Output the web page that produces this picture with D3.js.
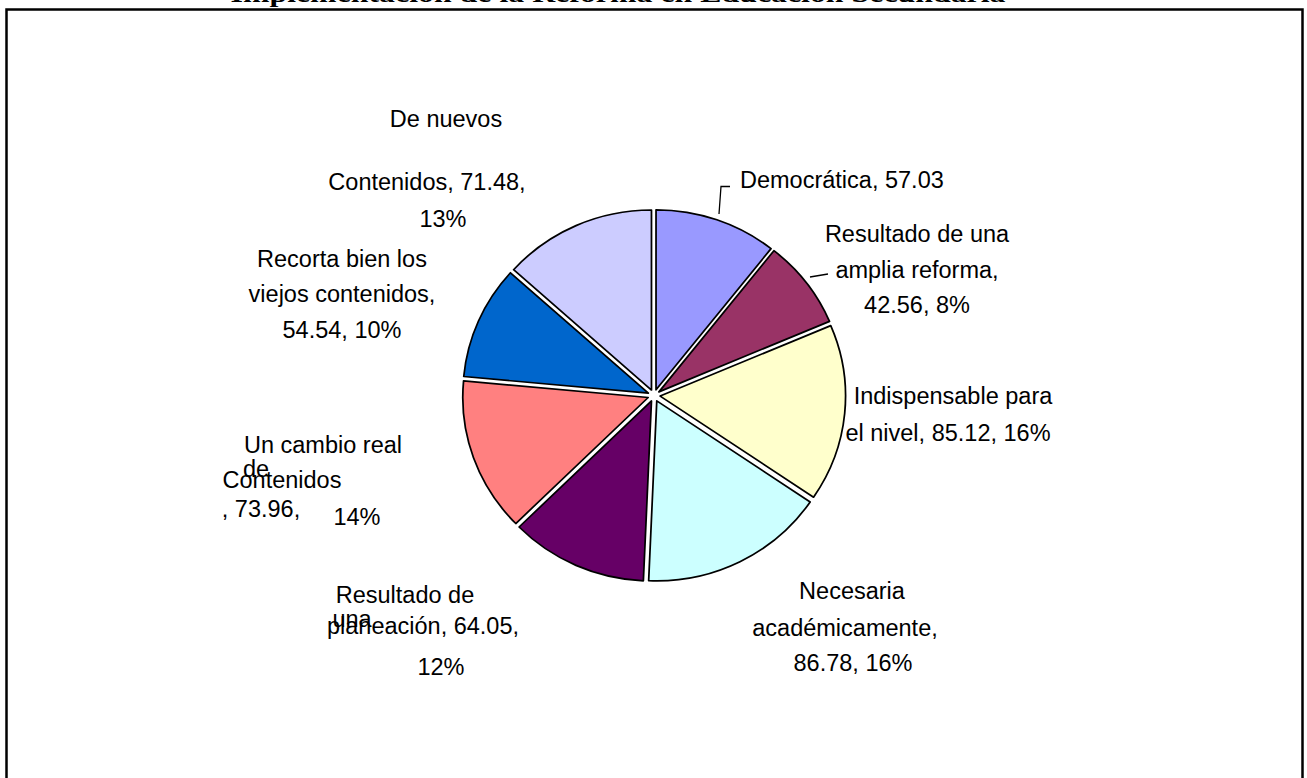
<!DOCTYPE html>
<html>
<head>
<meta charset="utf-8">
<script src="https://cdn.jsdelivr.net/npm/d3@7/dist/d3.min.js"></script>
<style>
  html, body { margin: 0; padding: 0; background: #fff; }
  svg { display: block; }
  .lbl { font-family: "Liberation Sans", Arial, sans-serif; font-size: 23.5px; fill: #000; }
</style>
</head>
<body>
<svg id="chart" width="1307" height="778"></svg>
<script>
// Opinión sobre la implementación de la reforma
const categories = [
  "Democrática",
  "Resultado de una amplia reforma",
  "Indispensable para el nivel",
  "Necesaria académicamente",
  "Resultado de una planeación",
  "Un cambio real de Contenidos",
  "Recorta bien los viejos contenidos",
  "De nuevos Contenidos"
];
const values = [57.03, 42.56, 85.12, 86.78, 64.05, 73.96, 54.54, 71.48];
const colors = ["#9999FF", "#993366", "#FFFFCC", "#CCFFFF", "#660066", "#FF8080", "#0066CC", "#CCCCFF"];
const title = "Implementación de la Reforma en Educación Secundaria";

const total = d3.sum(values);
const pct = v => Math.round(v / total * 100) + "%";

const svg = d3.select("#chart");

// chart frame
svg.append("rect")
  .attr("x", 6.5).attr("y", 9.5)
  .attr("width", 1296).attr("height", 800)
  .attr("fill", "none").attr("stroke", "#000").attr("stroke-width", 2.5);

// title (sits above the frame, mostly outside the page)
svg.append("text")
  .attr("x", 618).attr("y", 2)
  .attr("text-anchor", "middle")
  .attr("font-family", "Liberation Serif, Times New Roman, serif")
  .attr("font-weight", "bold")
  .attr("font-size", 26)
  .attr("textLength", 775)
  .attr("lengthAdjust", "spacingAndGlyphs")
  .text(title);

// pie
const cx = 654, cy = 395.5, r = 180, sx = 1.03, explode = 6;
const pie = d3.pie().sort(null).value(d => d)(values);
const arc = d3.arc().innerRadius(0).outerRadius(r);

const g = svg.append("g").attr("transform", `translate(${cx},${cy}) scale(${sx},1)`);
g.selectAll("path")
  .data(pie)
  .join("path")
  .attr("d", arc)
  .attr("transform", d => {
    const a = (d.startAngle + d.endAngle) / 2;
    return `translate(${explode * Math.sin(a)},${-explode * Math.cos(a)})`;
  })
  .attr("fill", (d, i) => colors[i])
  .attr("stroke", "#000")
  .attr("stroke-width", 1.7)
  .attr("stroke-linejoin", "round");

// data labels: [text, x, baseline] per line
const labels = [
  [[`${categories[0]}, ${values[0]}`, 740, 188, "start"]],
  [["Resultado de una", 917, 242], ["amplia reforma,", 917, 278], [`${values[1]}, ${pct(values[1])}`, 917, 313]],
  [["Indispensable para", 953, 404], [`el nivel, ${values[2]}, ${pct(values[2])}`, 948, 441]],
  [["Necesaria", 852, 599], ["académicamente,", 845, 636], [`${values[3]}, ${pct(values[3])}`, 853, 671]],
  [["Resultado de", 405, 603], ["una", 352, 627], [`planeación, ${values[4]},`, 423, 634], [pct(values[4]), 441, 675]],
  [["Un cambio real", 323, 453], ["de", 256, 477], ["Contenidos", 282, 488], [`, ${values[5]},`, 261, 517], [pct(values[5]), 357, 525]],
  [["Recorta bien los", 342, 267], ["viejos contenidos,", 342, 302], [`${values[6]}, ${pct(values[6])}`, 342, 338]],
  [["De nuevos", 446, 127], [`Contenidos, ${values[7]},`, 427, 190], [pct(values[7]), 443, 227]]
];

labels.forEach(lines => {
  lines.forEach(([t, x, y, anchor]) => {
    svg.append("text")
      .attr("class", "lbl")
      .attr("x", x).attr("y", y)
      .attr("text-anchor", anchor || "middle")
      .text(t);
  });
});

// leader lines
const leaders = [
  [[730, 186.5], [721, 186.5], [719, 214]],
  [[828, 274], [810, 277]]
];
leaders.forEach(pts => {
  svg.append("path")
    .attr("d", d3.line()(pts))
    .attr("fill", "none").attr("stroke", "#000").attr("stroke-width", 1.3);
});
</script>
</body>
</html>
